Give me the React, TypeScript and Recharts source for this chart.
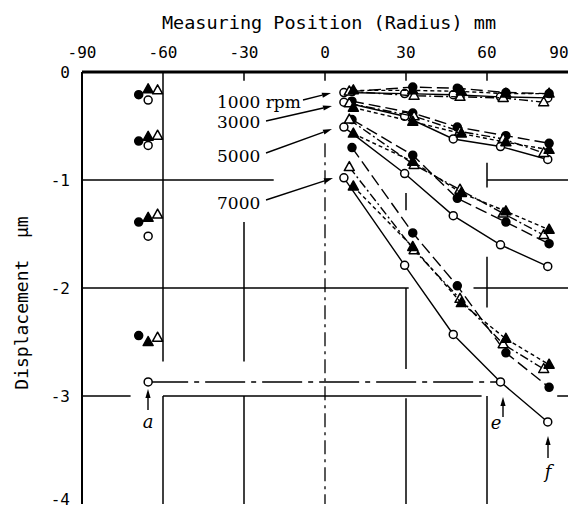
import React from 'react';
import { ComposedChart, Scatter, XAxis, YAxis, ReferenceLine } from 'recharts';

const xTicks = [-90, -60, -30, 0, 30, 60, 90];
const yTicks = [0, -1, -2, -3, -4];
const speeds = ['1000', '3000', '5000', '7000'];

// positions (mm) for each marker kind; first entry is the point on the negative side
const posOpenCircle = [-65.5, 7, 29.5, 47.5, 65, 82.5];
const posFilledCircle = [-69, 10, 32.5, 49, 67, 83];
const posFilledTriangle = [-65.5, 10.5, 32.5, 50.5, 67, 83];
const posOpenTriangle = [-62, 9, 33, 50, 66, 81];

// displacement (um), same order as the positions
const openCircle1000 = [-0.26, -0.19, -0.2, -0.21, -0.23, -0.24];
const filledCircle1000 = [-0.21, -0.18, -0.14, -0.15, -0.19, -0.2];
const filledTriangle1000 = [-0.16, -0.17, -0.17, -0.18, -0.2, -0.2];
const openTriangle1000 = [-0.17, -0.18, -0.22, -0.23, -0.24, -0.28];

const openCircle3000 = [-0.68, -0.28, -0.41, -0.62, -0.69, -0.81];
const filledCircle3000 = [-0.64, -0.27, -0.38, -0.51, -0.59, -0.66];
const filledTriangle3000 = [-0.6, -0.33, -0.46, -0.57, -0.65, -0.72];
const openTriangle3000 = [-0.59, -0.29, -0.41, -0.55, -0.62, -0.75];

const openCircle5000 = [-1.52, -0.51, -0.94, -1.33, -1.6, -1.8];
const filledCircle5000 = [-1.39, -0.44, -0.77, -1.17, -1.39, -1.59];
const filledTriangle5000 = [-1.35, -0.57, -0.83, -1.12, -1.29, -1.46];
const openTriangle5000 = [-1.32, -0.44, -0.86, -1.09, -1.31, -1.51];

const openCircle7000 = [-2.87, -0.98, -1.79, -2.43, -2.87, -3.24];
const filledCircle7000 = [-2.44, -0.7, -1.49, -1.98, -2.6, -2.92];
const filledTriangle7000 = [-2.5, -1.06, -1.62, -2.14, -2.47, -2.71];
const openTriangle7000 = [-2.46, -0.88, -1.65, -2.1, -2.52, -2.75];

// broken grid lines of the original sheet: [x1, y1, x2, y2]
const gridPieces = [
  [-60, 0, -60, -2.68], [-60, -3.0, -60, -4],
  [-30, 0, -30, -0.08], [-30, -1.39, -30, -2.68], [-30, -3.0, -30, -4],
  [0, 0, 0, -0.08],
  [30, 0, 30, -0.08], [30, -1.12, 30, -1.28], [30, -2.0, 30, -2.75], [30, -3.02, 30, -4],
  [60, 0, 60, -0.08], [60, -0.84, 60, -1.07], [60, -1.71, 60, -2.18], [60, -3.0, 60, -4],
  [-90, -1, -19, -1], [60, -1, 90, -1],
  [-90, -2, 31, -2], [55, -2, 90, -2],
  [-90, -3, -72, -3], [-60, -3, 58, -3], [86, -3, 90, -3],
];

const kinds = [
  { key: 'oc', pos: posOpenCircle, sets: [openCircle1000, openCircle3000, openCircle5000, openCircle7000], dash: undefined },
  { key: 'fc', pos: posFilledCircle, sets: [filledCircle1000, filledCircle3000, filledCircle5000, filledCircle7000], dash: '12 5' },
  { key: 'ot', pos: posOpenTriangle, sets: [openTriangle1000, openTriangle3000, openTriangle5000, openTriangle7000], dash: '9 3 2 3' },
  { key: 'ft', pos: posFilledTriangle, sets: [filledTriangle1000, filledTriangle3000, filledTriangle5000, filledTriangle7000], dash: '4 3' },
];

const mono = 'DejaVu Sans Mono';
const serif = 'DejaVu Serif';

function marker(kind: string) {
  return (p: any) => {
    const { cx, cy } = p;
    if (cx == null || cy == null) return <g />;
    if (kind === 'oc' || kind === 'fc') {
      return <circle cx={cx} cy={cy} r={4} fill={kind === 'fc' ? '#000' : '#fff'} stroke="#000" strokeWidth={1.5} />;
    }
    const pts = `${cx},${cy - 5.5} ${cx - 5},${cy + 3.5} ${cx + 5},${cy + 3.5}`;
    return <polygon points={pts} fill={kind === 'ft' ? '#000' : '#fff'} stroke="#000" strokeWidth={1.5} strokeLinejoin="round" />;
  };
}

const noShape = () => <g />;

function TopTick(props: any) {
  const { x, y, payload } = props;
  // keep the last label inside the page
  const shift = payload.value === 90 ? -6 : 0;
  return (
    <text x={x + shift} y={y - 2} textAnchor="middle" fontFamily={mono} fontSize={16} fill="#000">
      {payload.value}
    </text>
  );
}

function Arrow({ x1, y1, x2, y2 }: { x1: number; y1: number; x2: number; y2: number }) {
  const a = Math.atan2(y2 - y1, x2 - x1);
  const L = 9, W = 2.6;
  const bx = x2 - L * Math.cos(a), by = y2 - L * Math.sin(a);
  const p1 = `${bx + W * Math.sin(a)},${by - W * Math.cos(a)}`;
  const p2 = `${bx - W * Math.sin(a)},${by + W * Math.cos(a)}`;
  return (
    <g>
      <line x1={x1} y1={y1} x2={bx} y2={by} stroke="#000" strokeWidth={1.4} />
      <polygon points={`${x2},${y2} ${p1} ${p2}`} fill="#000" />
    </g>
  );
}

export default function App() {
  const leftSeries = kinds.map(k => ({
    key: k.key,
    data: k.sets.map(s => ({ x: k.pos[0], y: s[0] })),
  }));
  const curves: any[] = [];
  kinds.forEach(k => {
    k.sets.forEach((s, i) => {
      curves.push({
        id: `${k.key}-${speeds[i]}`,
        kind: k.key,
        dash: k.dash,
        data: k.pos.slice(1).map((x, j) => ({ x, y: s[j + 1] })),
      });
    });
  });
  const aToE = [
    { x: posOpenCircle[0], y: openCircle7000[0] },
    { x: posOpenCircle[4], y: openCircle7000[4] },
  ];

  return (
    <div style={{ position: 'absolute', left: 0, top: 0, width: 573, height: 508, background: '#fff' }}>
      <ComposedChart width={573} height={508} margin={{ top: 42, right: 5, bottom: 4, left: 22 }}>
        <XAxis
          xAxisId="top"
          orientation="top"
          type="number"
          dataKey="x"
          domain={[-90, 90]}
          ticks={xTicks}
          height={30}
          tickLine={false}
          tickSize={0}
          tickMargin={12}
          axisLine={{ stroke: '#000', strokeWidth: 3 }}
          tick={<TopTick />}
          allowDataOverflow
        />
        <XAxis
          xAxisId="bottom"
          orientation="bottom"
          type="number"
          dataKey="x"
          domain={[-90, 90]}
          height={0}
          tick={false}
          tickLine={false}
          axisLine={{ stroke: '#000', strokeWidth: 2.5 }}
          allowDataOverflow
        />
        <YAxis
          yAxisId="left"
          type="number"
          dataKey="y"
          domain={[-4, 0]}
          ticks={yTicks}
          width={60}
          tickLine={false}
          tickSize={0}
          tickMargin={12}
          axisLine={{ stroke: '#000', strokeWidth: 2 }}
          tick={{ fill: '#000', fontFamily: mono, fontSize: 16 }}
          allowDataOverflow
        />
        <YAxis
          yAxisId="right"
          orientation="right"
          type="number"
          dataKey="y"
          domain={[-4, 0]}
          width={0}
          tick={false}
          tickLine={false}
          axisLine={{ stroke: '#000', strokeWidth: 3 }}
          allowDataOverflow
        />
        {gridPieces.map((g, i) => (
          <ReferenceLine
            key={`g${i}`}
            xAxisId="top"
            yAxisId="left"
            segment={[{ x: g[0], y: g[1] }, { x: g[2], y: g[3] }]}
            stroke="#000"
            strokeWidth={1.5}
          />
        ))}
        <ReferenceLine
          xAxisId="top"
          yAxisId="left"
          segment={[{ x: 0, y: -0.66 }, { x: 0, y: -4 }]}
          stroke="#000"
          strokeWidth={1.3}
          strokeDasharray="14 5 3 5"
        />
        <Scatter
          xAxisId="top"
          yAxisId="left"
          data={aToE}
          fill="#000"
          shape={noShape}
          line={{ stroke: '#000', strokeWidth: 1.4, strokeDasharray: '40 6 5 6' }}
          lineType="joint"
          isAnimationActive={false}
        />
        {curves.map(c => (
          <Scatter
            key={c.id}
            xAxisId="top"
            yAxisId="left"
            data={c.data}
            fill="#000"
            shape={marker(c.kind)}
            line={{ stroke: '#000', strokeWidth: 1.4, strokeDasharray: c.dash }}
            lineType="joint"
            isAnimationActive={false}
          />
        ))}
        {leftSeries.map(s => (
          <Scatter
            key={`left-${s.key}`}
            xAxisId="top"
            yAxisId="left"
            data={s.data}
            fill="#000"
            shape={marker(s.key)}
            isAnimationActive={false}
          />
        ))}
      </ComposedChart>
      <svg width={573} height={508} style={{ position: 'absolute', left: 0, top: 0, pointerEvents: 'none' }}>
        <text x={329} y={29} textAnchor="middle" fontFamily={mono} fontSize={18.5} fill="#000" style={{ whiteSpace: 'pre' }}>
          Measuring Position (Radius) mm
        </text>
        <text
          x={0}
          y={0}
          transform="translate(28,303) rotate(-90)"
          textAnchor="middle"
          fontFamily={mono}
          fontSize={18}
          fill="#000"
          style={{ whiteSpace: 'pre' }}
        >
          Displacement  μm
        </text>
        <text x={217} y={108} fontFamily={serif} fontSize={17} fill="#000">1000 rpm</text>
        <text x={217} y={128} fontFamily={serif} fontSize={17} fill="#000">3000</text>
        <text x={217} y={162} fontFamily={serif} fontSize={17} fill="#000">5000</text>
        <text x={217} y={209} fontFamily={serif} fontSize={17} fill="#000">7000</text>
        <Arrow x1={303} y1={100} x2={331} y2={93} />
        <Arrow x1={266} y1={121} x2={332} y2={106} />
        <Arrow x1={266} y1={153} x2={332} y2={129} />
        <Arrow x1={266} y1={200} x2={333} y2={178} />
        <Arrow x1={148} y1={410} x2={148} y2={389} />
        <Arrow x1={503} y1={417} x2={503} y2={397} />
        <Arrow x1={548} y1={458} x2={548} y2={436} />
        <text x={148} y={428} textAnchor="middle" fontFamily={serif} fontStyle="italic" fontSize={18} fill="#000">a</text>
        <text x={496} y={429} textAnchor="middle" fontFamily={serif} fontStyle="italic" fontSize={18} fill="#000">e</text>
        <text x={548} y={478} textAnchor="middle" fontFamily={serif} fontStyle="italic" fontSize={18} fill="#000">f</text>
      </svg>
    </div>
  );
}
